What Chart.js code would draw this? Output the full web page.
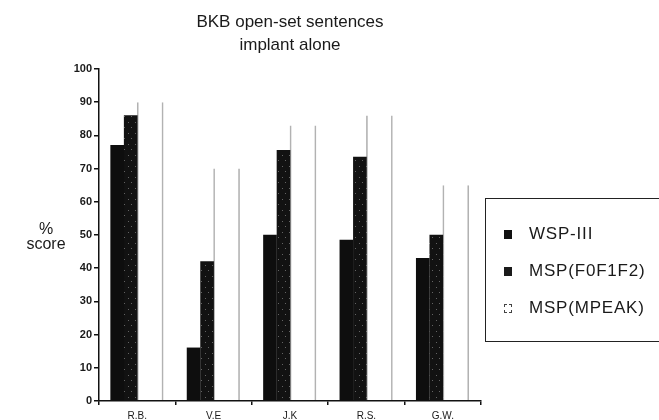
<!DOCTYPE html>
<html>
<head>
<meta charset="utf-8">
<script src="https://cdn.jsdelivr.net/npm/chart.js@4.4.1/dist/chart.umd.min.js"></script>
<style>
  body { margin: 0; background: #fff; overflow: hidden; }
  #wrap { position: relative; width: 659px; height: 420px; overflow: hidden; font-family: "Liberation Sans", Arial, sans-serif; color: #1a1a1a; }
  #ylab { position: absolute; left: 23px; top: 221px; width: 46px; text-align: center; font-size: 16px; line-height: 15px; }
  #legend { position: absolute; left: 485px; top: 198px; width: 200px; height: 144px; border: 1.5px solid #222; box-sizing: border-box; }
  .item { position: absolute; left: 18px; font-size: 17px; line-height: 20px; letter-spacing: 0.8px; white-space: nowrap; }
  .sw { display: inline-block; width: 8px; height: 9px; margin-right: 17px; vertical-align: 0px; }
</style>
</head>
<body>
<div id="wrap">
  <canvas id="barChart" width="659" height="420"></canvas>
  <div id="ylab">%<br>score</div>
  <div id="legend">
    <div class="item" style="top:25px"><span class="sw" style="background:#111"></span>WSP-III</div>
    <div class="item" style="top:62px"><span class="sw" style="background:#1a1a1a"></span>MSP(F0F1F2)</div>
    <div class="item" style="top:99px"><span class="sw" style="background:#fff;border:1px dashed #444;width:6px;height:7px"></span>MSP(MPEAK)</div>
  </div>
</div>
<script>
/* ===========================
   DATA
=========================== */
const subjects = ["R.B.", "V.E", "J.K", "R.S.", "G.W."];
const wspIII = [77, 16, 50, 48.5, 43];
const mspF0F1F2 = [86, 42, 75.5, 73.5, 50];
const mspMpeak = [90, 70, 83, 86, 65];
const yTicks = [0, 10, 20, 30, 40, 50, 60, 70, 80, 90, 100];

// bars sit off-centre inside each subject slot, so each series gets
// its own hidden linear x axis, shifted by a fraction of a slot
const seriesShift = [-0.262, -0.085, 0.17];
const toPoints = arr => arr.map((v, i) => ({ x: i, y: v }));

function hiddenAxis(shift) {
  const lo = -0.5 - shift;
  const hi = subjects.length - 0.5 - shift;
  return {
    type: "linear", axis: "x", display: false, offset: false,
    min: lo, max: hi,
    afterBuildTicks: s => {
      s.min = lo; s.max = hi;
      s.ticks = [{ value: lo }, { value: hi }];
    }
  };
}

// speckled fill for the F0F1F2 bars
function speckle() {
  const c = document.createElement("canvas");
  c.width = 7; c.height = 11;
  const g = c.getContext("2d");
  g.fillStyle = "#121212";
  g.fillRect(0, 0, 7, 11);
  g.fillStyle = "rgba(255,255,255,0.35)";
  g.fillRect(2, 1, 1, 1);
  g.fillRect(5, 6, 1, 1);
  return g.createPattern(c, "repeat");
}

const ctx = document.getElementById("barChart").getContext("2d");

new Chart(ctx, {
  type: "bar",
  data: {
    labels: subjects,
    datasets: [
      {
        label: "WSP-III", data: toPoints(wspIII), xAxisID: "xa",
        backgroundColor: "#0e0e0e", barThickness: 13
      },
      {
        label: "MSP(F0F1F2)", data: toPoints(mspF0F1F2), xAxisID: "xb",
        backgroundColor: speckle(), barThickness: 13
      },
      {
        label: "MSP(MPEAK)", data: toPoints(mspMpeak), xAxisID: "xc",
        backgroundColor: "rgba(255,255,255,0)", barThickness: 26,
        borderColor: "rgba(0,0,0,0.3)",
        borderWidth: { left: 1, right: 1, top: 0, bottom: 0 }
      }
    ]
  },
  options: {
    responsive: false,
    animation: false,
    grouped: false,
    layout: { padding: { left: 59, right: 178, top: 0, bottom: 0 } },
    plugins: {
      legend: { display: false },
      tooltip: { enabled: false },
      title: {
        display: true,
        fullSize: false,
        text: ["BKB open-set sentences", "implant alone"],
        color: "#1a1a1a",
        font: { family: "Liberation Sans", size: 17, weight: "normal", lineHeight: 23 / 17 },
        padding: { top: 10.5, bottom: 12.5 }
      }
    },
    scales: {
      x: {
        type: "category",
        afterFit: s => { s.height = 19; },
        border: { color: "#111", width: 1.5 },
        grid: { display: true, offset: true, drawOnChartArea: false, tickLength: 4, color: "#111", lineWidth: 1.5 },
        ticks: { color: "#1a1a1a", font: { family: "Liberation Sans", size: 10 }, padding: 5 }
      },
      xa: hiddenAxis(seriesShift[0]),
      xb: hiddenAxis(seriesShift[1]),
      xc: hiddenAxis(seriesShift[2]),
      y: {
        min: 0,
        max: 100,
        afterFit: s => { s.width = 40; },
        afterBuildTicks: s => { s.ticks = yTicks.map(v => ({ value: v })); },
        border: { color: "#111", width: 1.5 },
        grid: { display: true, drawOnChartArea: false, tickLength: 5, color: "#111", lineWidth: 1.5 },
        ticks: { color: "#1a1a1a", font: { family: "Liberation Sans", size: 11, weight: "bold" }, padding: 2 }
      }
    }
  }
});
</script>
</body>
</html>
